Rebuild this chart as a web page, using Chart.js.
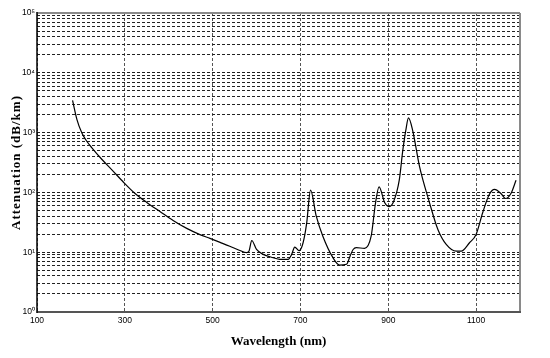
<!DOCTYPE html>
<html><head><meta charset="utf-8">
<script src="https://cdn.jsdelivr.net/npm/chart.js@4"></script>
<style>html,body{margin:0;padding:0;background:#fff}</style>
</head><body>
<canvas id="c" width="550" height="358" style="width:550px;height:358px;display:block"></canvas>
<script>
// Wavelength in nm
const wavelengths = [181,191,202,211,225,248,270,297,322,350,380,410,441,471,494,517,539,562,577,583,589,600,615,638,653,672,680,687,697,706,714,723,736,751,774,789,805,814,820,827,846,861,871,879,892,901,912,925,933,940,946,956,971,994,1013,1032,1055,1066,1085,1100,1115,1130,1142,1157,1167,1180,1191];
// Attenuation in dB/km
const attenuation = [3450,1650,990,760,556,355,241,148,98,68,48,34,25,19.7,17,14.6,12.6,10.7,9.8,10.5,15.7,11.1,9.2,8.1,7.6,7.6,9.2,12.2,10.6,14.4,30,109,40,18.5,8.1,6.1,6.3,9,11.1,11.9,11.6,18.5,67,124,67,58,70,160,500,1100,1760,1050,274,67,24,13.5,10.4,10.4,14.4,19.8,45.7,92,112,95,79,98,160];
const xTickValues = [100,300,500,700,900,1100];
const yDecades = [1,10,100,1000,10000,100000];
const yDecadeLabels = ['10\u2070','10\u00B9','10\u00B2','10\u00B3','10\u2074','10\u2075'];
const xTitle = 'Wavelength (nm)';
const yTitle = 'Attenuation (dB/km)';

const framePlugin = {
  id: 'frame',
  afterDraw(chart) {
    const {ctx, chartArea: a} = chart;
    ctx.save();
    ctx.strokeStyle = '#8a8a8a';
    ctx.lineWidth = 2;
    ctx.beginPath();
    ctx.moveTo(a.left, a.top); ctx.lineTo(a.right, a.top);
    ctx.moveTo(a.right, a.top); ctx.lineTo(a.right, a.bottom);
    ctx.stroke();
    ctx.strokeStyle = '#555';
    ctx.beginPath();
    ctx.moveTo(a.left, a.bottom); ctx.lineTo(a.right + 1, a.bottom);
    ctx.stroke();
    ctx.strokeStyle = '#000';
    ctx.lineWidth = 1.5;
    ctx.beginPath();
    ctx.moveTo(a.left, a.top - 1); ctx.lineTo(a.left, a.bottom + 1);
    ctx.stroke();
    // y title with letter spacing
    ctx.fillStyle = '#000';
    ctx.font = 'bold 13px "Liberation Serif", serif';
    try { ctx.letterSpacing = '1px'; } catch (e) {}
    ctx.textAlign = 'center';
    ctx.textBaseline = 'middle';
    ctx.translate(16.5, (a.top + a.bottom) / 2);
    ctx.rotate(-Math.PI / 2);
    ctx.fillText(yTitle, 0, 0);
    ctx.restore();
  }
};

new Chart(document.getElementById('c'), {
  type: 'line',
  data: {
    datasets: [{
      data: wavelengths.map((w, i) => ({x: w, y: attenuation[i]})),
      borderColor: '#000',
      borderWidth: 1.2,
      pointRadius: 0,
      fill: false,
      cubicInterpolationMode: 'monotone'
    }]
  },
  options: {
    responsive: false,
    animation: false,
    devicePixelRatio: 1,
    layout: {padding: {top: 13, right: 30, left: 0, bottom: 0}},
    plugins: {legend: {display: false}, tooltip: {enabled: false}},
    scales: {
      x: {
        type: 'linear',
        min: 100, max: 1200,
        afterFit(s) { s.height = 46; },
        afterBuildTicks(s) { s.ticks = xTickValues.map(v => ({value: v})); },
        ticks: {
          color: '#000', padding: 4, maxRotation: 0,
          font: {family: '"Liberation Sans", Arial, sans-serif', size: 8.5},
          callback: v => String(v)
        },
        grid: {color: '#555', lineWidth: 1, drawTicks: false},
        border: {display: false, dash: [3, 2]},
        title: {
          display: true, text: xTitle, color: '#000',
          font: {family: '"Liberation Serif", serif', size: 13, weight: 'bold'},
          padding: {top: 0, bottom: 9}
        }
      },
      y: {
        type: 'logarithmic',
        min: 1, max: 100000,
        afterFit(s) { s.width = 37; },
        afterBuildTicks(s) {
          const t = [];
          for (let d = 0; d < 5; d++) for (let m = 1; m < 10; m++) t.push({value: m * Math.pow(10, d)});
          t.push({value: 100000});
          s.ticks = t;
        },
        ticks: {
          color: '#000', padding: 2, autoSkip: false,
          font: {family: '"Liberation Sans", Arial, sans-serif', size: 8.5},
          callback: v => { const i = yDecades.indexOf(v); return i >= 0 ? yDecadeLabels[i] : ''; }
        },
        grid: {color: '#222', lineWidth: 1, drawTicks: false},
        border: {display: false, dash: [3, 2]}
      }
    }
  },
  plugins: [framePlugin]
});
</script>
</body></html>
